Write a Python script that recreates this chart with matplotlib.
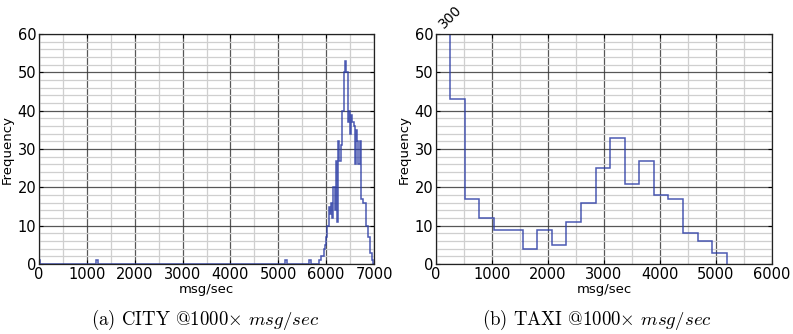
import numpy as np
import matplotlib.pyplot as plt
from matplotlib.ticker import MultipleLocator

plt.rcParams['mathtext.fontset'] = 'cm'

# CITY: bins of 25 msg/sec, counts from 5800 to 7000
city_width = 25
city_start = 5800
city_counts = [0, 0, 1, 1, 2, 2, 4, 5, 7, 10, 15, 13, 16, 12, 20, 14,
               27, 11, 32, 27, 31, 40, 40, 50, 53, 50, 37, 40, 34, 39, 37, 36,
               26, 35, 32, 26, 32, 17, 17, 16, 16, 10, 10, 7, 7, 3, 1, 0]
# isolated low-rate samples
city_outliers = [0, 1200, 5150, 5650]

# TAXI: bins of ~260 msg/sec
taxi_start = -10
taxi_width = 260
taxi_counts = [300, 43, 17, 12, 9, 9, 4, 9, 5, 11, 16, 25, 33, 21, 27, 18,
               17, 8, 6, 3]

line_color = '#2c3da6'

fig = plt.figure(figsize=(7.93, 3.34), dpi=100)
ax1 = fig.add_axes([39 / 793, 1 - 264 / 334, 335 / 793, 230 / 334])
ax2 = fig.add_axes([436 / 793, 1 - 264 / 334, 336 / 793, 230 / 334])

# full city histogram over 0..7000
city_edges = np.arange(0, 7000 + city_width, city_width)
city_full = np.zeros(len(city_edges) - 1)
i0 = city_start // city_width
city_full[i0:i0 + len(city_counts)] = city_counts
for v in city_outliers:
    city_full[int(v // city_width)] += 1

taxi_edges = taxi_start + taxi_width * np.arange(len(taxi_counts) + 1)

ax1.stairs(city_full, city_edges, color=line_color, lw=1.1, alpha=0.85)
ax2.stairs(taxi_counts, taxi_edges, color=line_color, lw=1.1, alpha=0.85)

ax1.set_xlim(0, 7000)
ax2.set_xlim(0, 6000)

for ax in (ax1, ax2):
    ax.set_ylim(0, 60)
    ax.xaxis.set_major_locator(MultipleLocator(1000))
    ax.xaxis.set_minor_locator(MultipleLocator(500))
    ax.yaxis.set_major_locator(MultipleLocator(10))
    ax.yaxis.set_minor_locator(MultipleLocator(2))
    ax.grid(which='major', color='#3a3a3a', lw=0.9, alpha=0.85)
    ax.grid(which='minor', color='#cfcfcf', lw=0.9)
    ax.set_axisbelow(True)
    ax.tick_params(which='major', direction='in', length=3, labelsize=10.5,
                   top=True, right=True, pad=2)
    ax.tick_params(which='minor', length=0)
    for s in ax.spines.values():
        s.set_color('#222222')
        s.set_linewidth(0.9)
    ax.set_xlabel('msg/sec', fontsize=9.5, labelpad=1)
    ax.set_ylabel('Frequency', fontsize=9.5, labelpad=3)

# clipped first TAXI bin
ax2.text(taxi_edges[1], 60.8, str(taxi_counts[0]), rotation=45,
         ha='center', va='bottom', fontsize=10)

cap_font = ['cmr10', 'DejaVu Serif']
fig.text(205 / 793, 1 - 320 / 334, r'(a) CITY @1000$\times$ $msg/sec$',
         ha='center', va='center', fontsize=13.5, family=cap_font)
fig.text(597 / 793, 1 - 320 / 334, r'(b) TAXI @1000$\times$ $msg/sec$',
         ha='center', va='center', fontsize=13.5, family=cap_font)

plt.savefig('out.png', dpi=100)
